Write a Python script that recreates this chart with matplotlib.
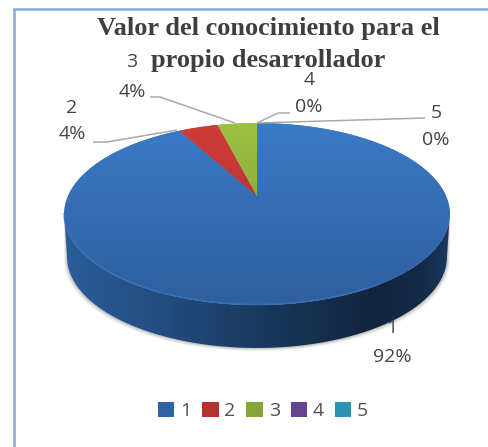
import numpy as np
import matplotlib
matplotlib.use("Agg")
import matplotlib.pyplot as plt
from matplotlib.colors import LinearSegmentedColormap as LSC
from matplotlib.patches import Patch, Polygon
from matplotlib.path import Path
from matplotlib.transforms import Transform

categories = ["1", "2", "3", "4", "5"]
values = [92, 4, 4, 0, 0]
percent_labels = ["92%", "4%", "4%", "0%", "0%"]
title_lines = ["Valor del conocimiento para el", "propio desarrollador"]
legend_colors = ["#2f63a3", "#b5302f", "#84a637", "#63458f", "#2a93ad"]

W, H = 488, 447
CX, CY = 257.0, 196.0
K, A, B = 0.198, 87.4, 189.0
DEPTH = 43.0


def project(u, v):
    d = 1 + K * v
    return CX + B * u / d, CY - A * v / d


class Persp(Transform):
    input_dims = output_dims = 2
    has_inverted = False
    is_affine = False

    def transform_non_affine(self, values):
        x, y = project(values[:, 0], values[:, 1])
        return np.column_stack([x, y])

    def transform_path_non_affine(self, path):
        pts = []
        for seg, code in path.iter_bezier():
            if code == Path.MOVETO:
                pts.append(np.atleast_2d(seg.control_points[0]))
            else:
                pts.append(seg(np.linspace(0, 1, 24))[1:])
        return Path(self.transform_non_affine(np.vstack(pts)))


plt.rcParams["font.family"] = ["Open Sans", "DejaVu Sans"]
fig = plt.figure(figsize=(W / 100, H / 100), dpi=100)
ax = fig.add_axes([0, 0, 1, 1])

wedges, _ = ax.pie(values, startangle=90, counterclock=False, radius=1,
                   colors=legend_colors, wedgeprops=dict(linewidth=0))
ax.set_aspect("auto")
ax.set_xlim(0, W)
ax.set_ylim(H, 0)
ax.axis("off")

# chart frame: only the top and left edges show in the crop
ax.plot([13.5, 13.5, W], [H, 8.5, 8.5], color="#86a9d6", lw=1.8, zorder=0.5,
        solid_joinstyle="miter")

tf = Persp() + ax.transData
gradients = [("#3b7ac6", "#2e5f9e"), ("#d03c3a", "#a32c2b"), ("#9cc244", "#76962f"),
             ("#63458f", "#63458f"), ("#2a93ad", "#2a93ad")]

t = np.linspace(0, 2 * np.pi, 721)
ex, ey = project(np.cos(t), np.sin(t))
front = ey > 214
order = np.argsort(ex[front])
fx, fy = ex[front][order], ey[front][order]
SH = 0.985
bx = CX + (fx - CX) * SH
by = fy + DEPTH

# soft shadow
for grow, alpha in [(3.0, .08), (2.0, .12), (1.0, .18)]:
    ax.add_patch(Polygon(np.column_stack([np.r_[fx, bx[::-1] + np.sign(bx[::-1] - CX) * grow],
                                          np.r_[fy, by[::-1] + grow]]),
                         fc="#555555", ec="none", alpha=alpha, zorder=1))

# wall
wall = Polygon(np.column_stack([np.r_[fx, bx[::-1]], np.r_[fy, by[::-1]]]),
               fc="none", ec="none", zorder=1.2)
ax.add_patch(wall)
wall_cmap = LSC.from_list("w", [(0, "#2b5d99"), (.25, "#234d81"), (.55, "#183659"),
                                (.8, "#12253f"), (.93, "#142a47"), (1, "#1a3a60")])
im = ax.imshow(np.linspace(0, 1, 256)[None, :], cmap=wall_cmap, extent=(64, 450, 360, 200),
               aspect="auto", zorder=1.3)
im.set_clip_path(wall)

# top face
for w, (c0, c1) in zip(wedges, gradients):
    w.set_transform(tf)
    w.set_zorder(2)
    if w.theta1 == w.theta2:
        w.set_visible(False)
        continue
    w.set_facecolor(c0)
    cmap = LSC.from_list("g", [c0, c1])
    im = ax.imshow(np.linspace(0, 1, 256)[:, None], cmap=cmap, extent=(64, 450, 305, 123),
                   aspect="auto", zorder=2.1)
    im.set_clip_path(w)

# lit rim of the front edge
rim = fx < 380
ax.plot(fx[rim], fy[rim] - 0.5, color="#3a72b8", lw=1.2, alpha=.8, zorder=2.2)

ax.set_xlim(0, W)
ax.set_ylim(H, 0)

# leader lines
leaders = [([93, 107, 177], [142, 142, 130]),
           ([150, 160, 235], [97, 97, 123]),
           ([290, 278, 257], [113, 113, 123]),
           ([425, 257], [118, 123])]
for lx, ly in leaders:
    ax.plot(lx, ly, color="#a9a9a9", lw=1.1, zorder=3, solid_capstyle="butt")

# data labels
label_pos = [(392, 328, 357), (72, 108, 134), (132, 62, 92), (309, 80, 107), (436, 113, 140)]
for cat, pct, (x, y1, y2) in zip(categories, percent_labels, label_pos):
    ax.text(x, y1, cat, ha="center", va="center", fontsize=14, color="#454545", zorder=4)
    ax.text(x, y2, pct, ha="center", va="center", fontsize=14, color="#454545", zorder=4)

# title
for line, y in zip(title_lines, (29, 60)):
    ax.text(268, y, line, ha="center", va="center", fontsize=19, fontweight="bold",
            family=["Liberation Serif"], color="#3f3f3f", zorder=4)

handles = [Patch(fc=c, ec="none") for c in legend_colors]
ax.legend(handles, categories, loc="center", bbox_to_anchor=(263 / W, 1 - 411 / H),
          ncol=5, frameon=False, fontsize=14, labelcolor="#505050",
          handlelength=0.85, handleheight=0.85, handletextpad=0.3, columnspacing=0.55)

fig.savefig("out.png", dpi=100, facecolor="white")
